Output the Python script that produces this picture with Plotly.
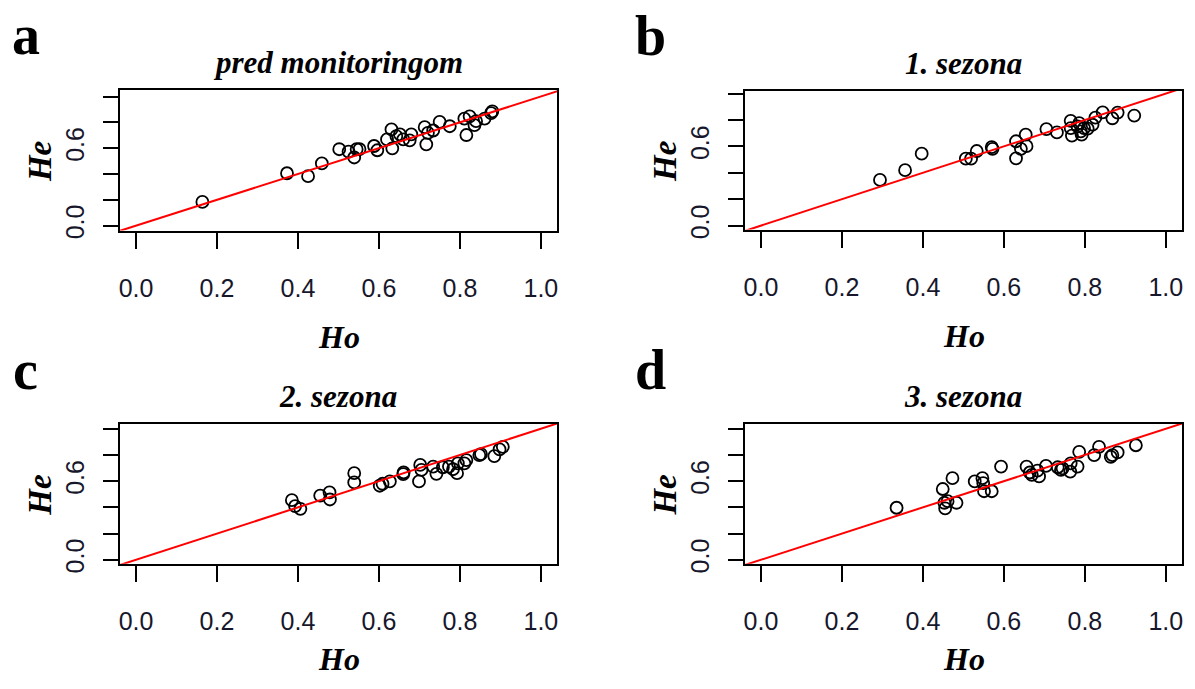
import plotly.graph_objects as go

# Observed (Ho) and expected (He) heterozygosity per locus, by period
ho_pred = [0.164, 0.373, 0.425, 0.459, 0.502, 0.525, 0.539, 0.545, 0.552, 0.588, 0.596,
           0.620, 0.631, 0.633, 0.643, 0.652, 0.660, 0.680, 0.676, 0.713, 0.717, 0.721,
           0.734, 0.750, 0.775, 0.811, 0.816, 0.824, 0.836, 0.840, 0.861, 0.877, 0.880]
he_pred = [0.184, 0.406, 0.383, 0.482, 0.592, 0.574, 0.528, 0.592, 0.592, 0.617, 0.584,
           0.668, 0.745, 0.599, 0.694, 0.707, 0.668, 0.707, 0.661, 0.763, 0.630, 0.719,
           0.737, 0.804, 0.770, 0.829, 0.702, 0.847, 0.778, 0.809, 0.829, 0.872, 0.885]

ho_s1 = [0.294, 0.356, 0.397, 0.506, 0.519, 0.533, 0.570, 0.572, 0.630, 0.630, 0.642,
         0.656, 0.654, 0.705, 0.731, 0.765, 0.765, 0.768, 0.786, 0.790, 0.792, 0.798,
         0.819, 0.826, 0.844, 0.868, 0.881, 0.922, 0.782, 0.807]
he_s1 = [0.346, 0.420, 0.545, 0.507, 0.507, 0.565, 0.595, 0.582, 0.639, 0.510, 0.582,
         0.602, 0.689, 0.731, 0.706, 0.794, 0.739, 0.682, 0.776, 0.714, 0.689, 0.739,
         0.764, 0.818, 0.858, 0.813, 0.856, 0.833, 0.751, 0.734]

ho_s2 = [0.385, 0.393, 0.406, 0.455, 0.478, 0.479, 0.539, 0.539, 0.602, 0.609, 0.627,
         0.660, 0.661, 0.699, 0.702, 0.705, 0.734, 0.742, 0.758, 0.773, 0.783, 0.793,
         0.795, 0.811, 0.816, 0.848, 0.852, 0.885, 0.898, 0.906]
he_s2 = [0.455, 0.410, 0.389, 0.490, 0.515, 0.460, 0.661, 0.590, 0.565, 0.580, 0.598,
         0.653, 0.666, 0.598, 0.724, 0.686, 0.711, 0.656, 0.706, 0.711, 0.691, 0.661,
         0.736, 0.736, 0.761, 0.799, 0.807, 0.791, 0.842, 0.862]

ho_s3 = [0.335, 0.449, 0.453, 0.455, 0.473, 0.483, 0.461, 0.528, 0.547, 0.549, 0.551,
         0.570, 0.593, 0.656, 0.664, 0.669, 0.687, 0.704, 0.733, 0.741, 0.745, 0.765,
         0.764, 0.782, 0.786, 0.823, 0.835, 0.864, 0.868, 0.881, 0.926, 0.683]
he_s3 = [0.397, 0.540, 0.435, 0.392, 0.623, 0.435, 0.447, 0.598, 0.623, 0.585, 0.523,
         0.523, 0.711, 0.711, 0.666, 0.648, 0.636, 0.716, 0.706, 0.686, 0.698, 0.736,
         0.673, 0.711, 0.824, 0.799, 0.862, 0.786, 0.799, 0.819, 0.874, 0.681]

panel_letters = ["a", "b", "c", "d"]
panel_titles = ["pred monitoringom", "1. sezona", "2. sezona", "3. sezona"]
x_label = "Ho"
y_label = "He"
tick_vals = [0.0, 0.2, 0.4, 0.6, 0.8, 1.0]
x_tick_text = ["0.0", "0.2", "0.4", "0.6", "0.8", "1.0"]
y_tick_text = ["0.0", "", "", "0.6", "", ""]

W, H = 1195, 689

# pixel boxes of the four plot regions: (left, right, top, bottom)
boxes = [(119, 557, 91, 234), (745, 1183, 92, 233),
         (119, 557, 430, 572), (745, 1183, 430, 572)]
y_ranges = [(-0.038, 1.053), (-0.030, 1.022), (-0.030, 1.038), (-0.030, 1.038)]
x_range = (-0.04, 1.04)
# vertical offset of the Ho label below each plot box (lower row kept inside the page)
x_title_gap = [108, 108, 97, 97]

series = [(ho_pred, he_pred), (ho_s1, he_s1), (ho_s2, he_s2), (ho_s3, he_s3)]

serif = "Liberation Serif, Times New Roman, serif"
sans = "Liberation Sans, Arial, sans-serif"

fig = go.Figure()
annotations = []

for i, ((ho, he), (l, r, t, b)) in enumerate(zip(series, boxes)):
    n = "" if i == 0 else str(i + 1)
    xa, ya = "x" + n, "y" + n

    fig.add_trace(go.Scatter(
        x=ho, y=he, mode="markers", xaxis=xa, yaxis=ya,
        marker=dict(symbol="circle-open", size=12, color="black",
                    line=dict(width=1.8, color="black")),
        showlegend=False, hoverinfo="skip"))
    # 1:1 reference line
    fig.add_trace(go.Scatter(
        x=[-0.1, 1.1], y=[-0.1, 1.1], mode="lines", xaxis=xa, yaxis=ya,
        line=dict(color="#ff0000", width=2), showlegend=False, hoverinfo="skip"))

    common = dict(showline=True, mirror=True, linecolor="black", linewidth=2,
                  showgrid=False, zeroline=False, ticks="outside",
                  tickcolor="black", tickwidth=2,
                  tickfont=dict(family=sans, size=25, color="#17172c"))
    fig.update_layout(**{
        "xaxis" + n: dict(domain=[l / W, r / W], range=list(x_range),
                          anchor=ya, tickvals=tick_vals, ticktext=x_tick_text,
                          ticklen=16, ticklabelstandoff=18, **common),
        "yaxis" + n: dict(domain=[1 - b / H, 1 - t / H], range=list(y_ranges[i]),
                          anchor=xa, tickvals=tick_vals, ticktext=y_tick_text,
                          ticklen=15, tickangle=-90, ticklabelstandoff=9, **common),
    })

    cx = (l + r) / 2
    cy = (t + b) / 2
    # panel title
    annotations.append(dict(
        text=panel_titles[i], x=cx / W, y=1 - (t - 28) / H,
        xref="paper", yref="paper", showarrow=False, xanchor="center", yanchor="middle",
        font=dict(family=serif, size=31, color="black", weight="bold", style="italic")))
    # x-axis title
    annotations.append(dict(
        text=x_label, x=(cx + 1) / W, y=1 - (b + x_title_gap[i]) / H,
        xref="paper", yref="paper", showarrow=False, xanchor="center", yanchor="middle",
        font=dict(family=serif, size=32, color="black", weight="bold", style="italic")))
    # y-axis title
    annotations.append(dict(
        text=y_label, x=(l - 80) / W, y=1 - (cy + 1) / H, textangle=-90,
        xref="paper", yref="paper", showarrow=False, xanchor="center", yanchor="middle",
        font=dict(family=serif, size=33, color="black", weight="bold", style="italic")))
    # panel letter
    annotations.append(dict(
        text=panel_letters[i], x=(l - 94) / W, y=1 - (t - 55) / H,
        xref="paper", yref="paper", showarrow=False, xanchor="center", yanchor="middle",
        font=dict(family=serif, size=56, color="black", weight="bold")))

fig.update_layout(
    width=W, height=H, margin=dict(l=0, r=0, t=0, b=0),
    paper_bgcolor="white", plot_bgcolor="white",
    annotations=annotations,
)

fig.write_html("out.html")
